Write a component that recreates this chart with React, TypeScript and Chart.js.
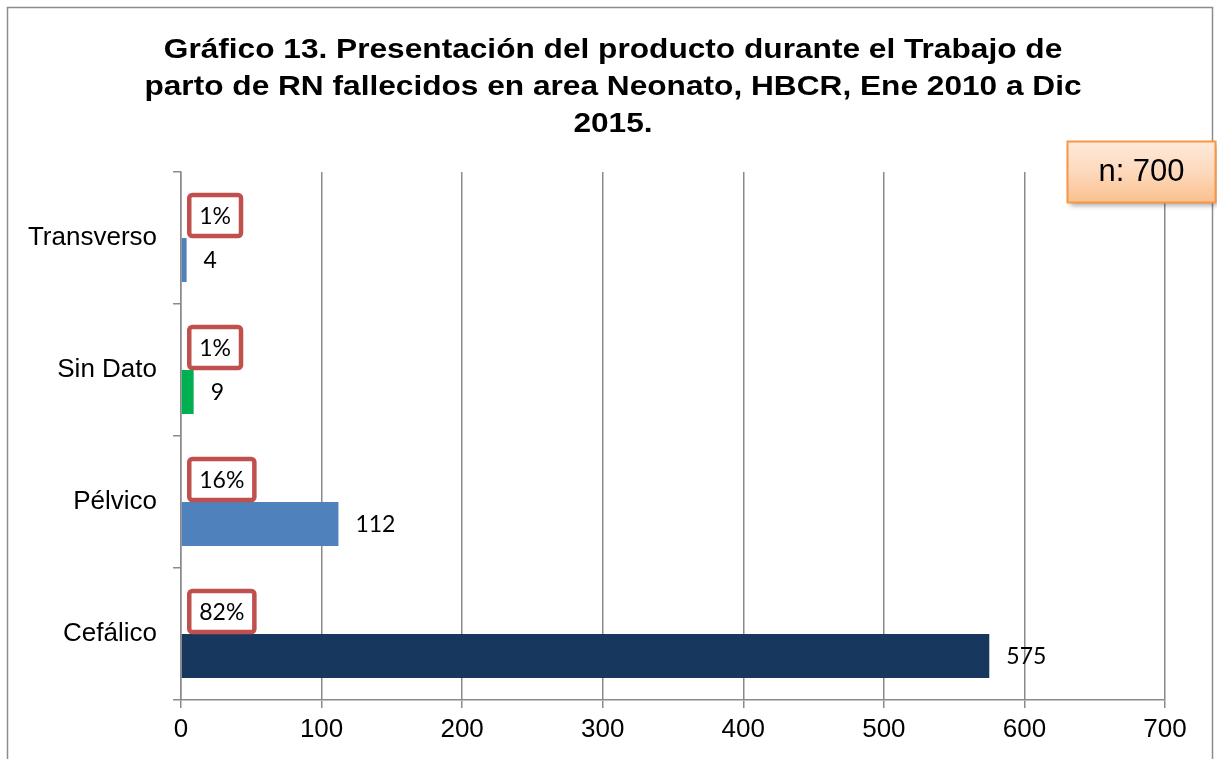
import React, { useEffect, useRef } from 'react';
import { Chart, registerables } from 'chart.js';

Chart.register(...registerables);

const categories = ['Transverso', 'Sin Dato', 'Pélvico', 'Cefálico'];
const counts = [4, 9, 112, 575];
const percents = [1, 1, 16, 82];
const barColors = ['#4F81BD', '#00B050', '#4F81BD', '#17375E'];
const xMin = 0;
const xMax = 700;
const xStep = 100;
const titleLines = [
  'Gráfico 13. Presentación del producto durante el Trabajo de',
  'parto de RN fallecidos en area Neonato, HBCR, Ene 2010 a Dic',
  '2015.',
];
const totalLabel = 'n: 700';

const GRID = '#8A8A8A';
const AXIS_FONT = "'Liberation Sans', Arial, sans-serif";
const LABEL_FONT = "Lato, 'Open Sans', sans-serif";

const decorPlugin = {
  id: 'decor',
  beforeDraw(chart: any) {
    const ctx = chart.ctx;
    ctx.save();
    ctx.fillStyle = '#ffffff';
    ctx.fillRect(0, 0, chart.width, chart.height);
    ctx.strokeStyle = '#8C8C8C';
    ctx.lineWidth = 1.5;
    ctx.strokeRect(7.5, 7.5, chart.width - 12, chart.height + 40);
    ctx.restore();
  },
  afterDatasetsDraw(chart: any) {
    const ctx = chart.ctx;
    const pctMeta = chart.getDatasetMeta(0);
    const valMeta = chart.getDatasetMeta(1);
    ctx.save();
    ctx.font = `23px ${LABEL_FONT}`;
    ctx.fillStyle = '#000';
    ctx.textBaseline = 'middle';
    ctx.textAlign = 'left';
    valMeta.data.forEach((el: any, i: number) => {
      const { x, y } = el.getProps(['x', 'y'], true);
      ctx.fillText(String(counts[i]), x + 17, y + 1);
    });
    pctMeta.data.forEach((el: any, i: number) => {
      const { y, base, height } = el.getProps(['y', 'base', 'height'], true);
      const text = `${percents[i]}%`;
      const tw = ctx.measureText(text).width;
      const left = base + 7.5;
      const top = y - height / 2 + 1;
      const w = tw + 20;
      const h = height - 3;
      ctx.beginPath();
      ctx.roundRect(left, top, w, h, 3);
      ctx.fillStyle = '#ffffff';
      ctx.fill();
      ctx.lineWidth = 4.5;
      ctx.strokeStyle = '#C0504D';
      ctx.stroke();
      ctx.fillStyle = '#000';
      ctx.textAlign = 'center';
      ctx.fillText(text, left + w / 2, top + h / 2 + 1);
      ctx.textAlign = 'left';
    });
    ctx.restore();
  },
  afterDraw(chart: any) {
    const ctx = chart.ctx;
    // title
    ctx.save();
    ctx.fillStyle = '#000';
    ctx.font = `bold 28px ${AXIS_FONT}`;
    ctx.textAlign = 'center';
    ctx.textBaseline = 'alphabetic';
    const baselines = [57.5, 94.5, 131.5];
    titleLines.forEach((line, i) => {
      ctx.save();
      ctx.translate(613, baselines[i]);
      ctx.scale(1.13, 1);
      ctx.fillText(line, 0, 0);
      ctx.restore();
    });
    ctx.restore();

    // n box
    const x = 1067.5;
    const y = 141.5;
    const w = 148;
    const h = 61;
    ctx.save();
    const g = ctx.createLinearGradient(0, y, 0, y + h);
    g.addColorStop(0, '#FEEADA');
    g.addColorStop(0.5, '#FDD9BC');
    g.addColorStop(1, '#FBC08F');
    ctx.shadowColor = 'rgba(0,0,0,0.35)';
    ctx.shadowBlur = 5;
    ctx.shadowOffsetX = 2;
    ctx.shadowOffsetY = 3;
    ctx.fillStyle = g;
    ctx.fillRect(x, y, w, h);
    ctx.shadowColor = 'rgba(0,0,0,0)';
    ctx.strokeStyle = '#F79646';
    ctx.lineWidth = 2;
    ctx.strokeRect(x, y, w, h);
    ctx.fillStyle = '#000';
    ctx.font = `31px ${AXIS_FONT}`;
    ctx.textAlign = 'center';
    ctx.textBaseline = 'middle';
    ctx.fillText(totalLabel, x + w / 2, y + h / 2);
    ctx.restore();
  },
};

export default function App() {
  const ref = useRef<HTMLCanvasElement>(null);

  useEffect(() => {
    if (!ref.current) return;
    const chart = new Chart(ref.current, {
      type: 'bar',
      data: {
        labels: categories,
        datasets: [
          {
            label: 'Porcentaje',
            data: percents,
            backgroundColor: 'rgba(0,0,0,0)',
            borderWidth: 0,
          },
          {
            label: 'Casos',
            data: counts,
            backgroundColor: barColors,
            borderWidth: 0,
          },
        ],
      },
      options: {
        indexAxis: 'y',
        responsive: false,
        animation: false,
        events: [],
        datasets: {
          bar: { categoryPercentage: 2 / 3, barPercentage: 1 },
        },
        layout: { padding: { top: 172, left: 0, right: 52, bottom: 0 } },
        plugins: {
          legend: { display: false },
          tooltip: { enabled: false },
          title: { display: false },
        },
        scales: {
          x: {
            min: xMin,
            max: xMax,
            ticks: {
              stepSize: xStep,
              color: '#000',
              font: { family: AXIS_FONT, size: 26 },
              padding: 6,
            },
            grid: {
              color: GRID,
              lineWidth: 1.5,
              tickLength: 8,
              drawOnChartArea: true,
            },
            border: { display: true, color: GRID, width: 1.5 },
            afterFit(scale: any) {
              scale.height = 59;
            },
          },
          y: {
            ticks: {
              color: '#000',
              font: { family: AXIS_FONT, size: 26 },
              padding: 16,
            },
            grid: {
              color: GRID,
              lineWidth: 1.5,
              tickLength: 8,
              drawOnChartArea: false,
              offset: true,
            },
            border: { display: true, color: GRID, width: 1.5 },
            afterFit(scale: any) {
              scale.width = 181;
            },
          },
        },
      },
      plugins: [decorPlugin],
    });
    return () => chart.destroy();
  }, []);

  return (
    <div style={{ position: 'fixed', left: 0, top: 0, width: 1217, height: 759, background: '#fff' }}>
      <canvas ref={ref} width={1217} height={759} style={{ display: 'block' }} />
    </div>
  );
}
